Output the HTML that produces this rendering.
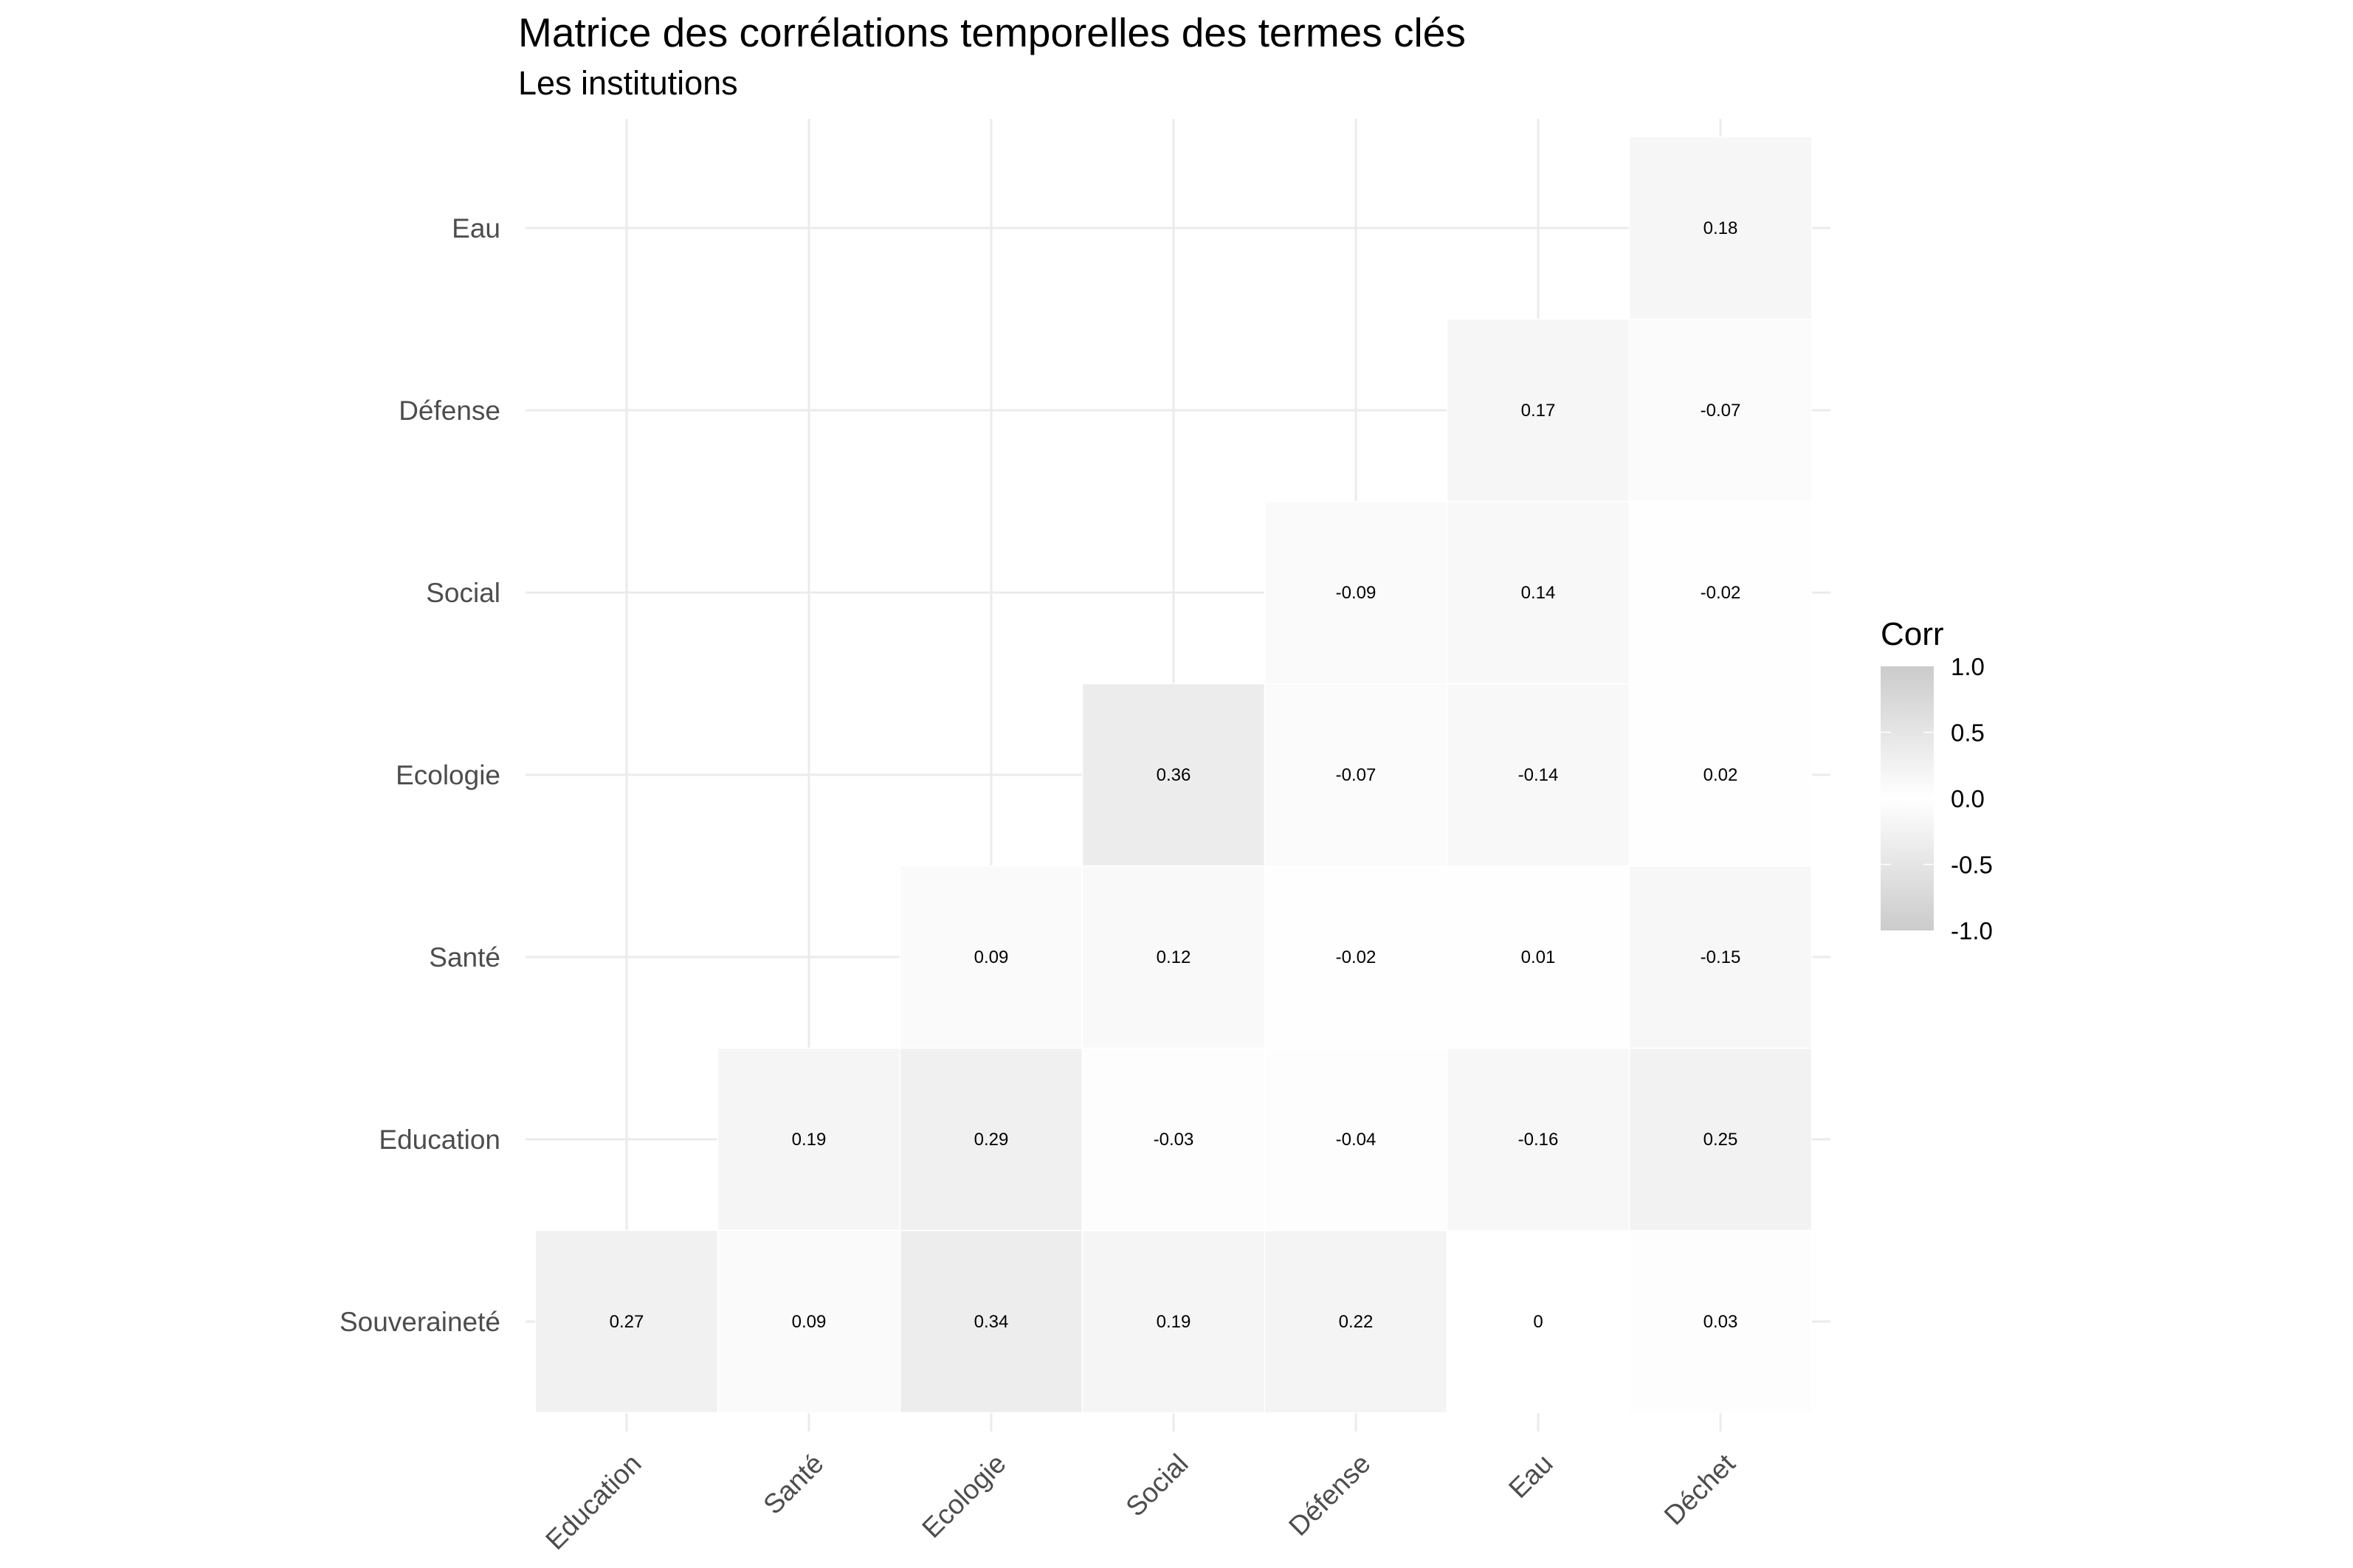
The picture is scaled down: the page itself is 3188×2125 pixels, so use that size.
<!DOCTYPE html>
<html><head><meta charset="utf-8"><style>
html,body{margin:0;padding:0;background:#fff;}
svg{display:block;font-family:"Liberation Sans",Arial,sans-serif;}
</style></head><body>
<svg id="chart" width="3188" height="2125" viewBox="0 0 3188 2125" xmlns="http://www.w3.org/2000/svg">
<rect width="3188" height="2125" fill="#fff"/>
<text x="702" y="63" font-size="55" fill="#000">Matrice des corrélations temporelles des termes clés</text>
<text x="702" y="128" font-size="45" fill="#000">Les institutions</text>
<g id="grid"></g>
<g id="tiles"></g>
<g id="xlabels"></g>
<g id="ylabels"></g>
<g id="legend">
<defs><linearGradient id="lg" x1="0" y1="0" x2="0" y2="1">
<stop offset="0" stop-color="#cbcbcb"/><stop offset="0.5" stop-color="#ffffff"/><stop offset="1" stop-color="#cbcbcb"/></linearGradient></defs>
<text x="2548" y="874" font-size="44" fill="#000">Corr</text>
<rect x="2548" y="903" width="72" height="358" fill="url(#lg)"/>
</g>
</svg>
<script>
const xCats = ["Education","Santé","Ecologie","Social","Défense","Eau","Déchet"];
const yCats = ["Souveraineté","Education","Santé","Ecologie","Social","Défense","Eau"];
const rowSouverainete = [0.27,0.09,0.34,0.19,0.22,0,0.03];
const rowEducation = [null,0.19,0.29,-0.03,-0.04,-0.16,0.25];
const rowSante = [null,null,0.09,0.12,-0.02,0.01,-0.15];
const rowEcologie = [null,null,null,0.36,-0.07,-0.14,0.02];
const rowSocial = [null,null,null,null,-0.09,0.14,-0.02];
const rowDefense = [null,null,null,null,null,0.17,-0.07];
const rowEau = [null,null,null,null,null,null,0.18];
const legendTicks = [1.0,0.5,0.0,-0.5,-1.0];
const legendTickLabels = ["1.0","0.5","0.0","-0.5","-1.0"];

const rows = [rowSouverainete,rowEducation,rowSante,rowEcologie,rowSocial,rowDefense,rowEau];
const NS = "http://www.w3.org/2000/svg";
const X0 = 849, STEP = 247, Y0 = 1791;
const xPos = i => X0 + i*STEP;
const yPos = j => Y0 - j*STEP;
const legY = v => 903 + (1 - v)/2 * 358;
function fillFor(v){ const g = Math.round(255 - 52*Math.abs(v)); return `rgb(${g},${g},${g})`; }
function mk(tag, attrs, parent){ const e=document.createElementNS(NS,tag); for(const k in attrs) e.setAttribute(k,attrs[k]); parent.appendChild(e); return e; }

const grid = document.getElementById('grid');
xCats.forEach((c,i)=>{
  const l = mk('line',{x1:xPos(i),x2:xPos(i),y1:161,y2:1940,stroke:'#ebebeb','stroke-width':3},grid);
  
  
});
yCats.forEach((c,j)=>{
  const l = mk('line',{x1:712,x2:2480,y1:yPos(j),y2:yPos(j),stroke:'#ebebeb','stroke-width':3},grid);
  
  
});

const tiles = document.getElementById('tiles');
rows.forEach((row,j)=>{
  row.forEach((v,i)=>{
    if(v===null) return;
    const r = mk('rect',{x:xPos(i)-123.5,y:yPos(j)-123.5,width:STEP,height:STEP,fill:fillFor(v),stroke:'#fff','stroke-width':1.5},tiles);
    
    
    const t = mk('text',{x:xPos(i),y:yPos(j)+8,'font-size':24,'text-anchor':'middle',fill:'#000'},tiles);
    t.textContent = String(v);
    
    
  });
});

const xl = document.getElementById('xlabels');
xCats.forEach((c,i)=>{
  const x = xPos(i)+22, y = 1986;
  const t = mk('text',{x:x,y:y,'font-size':37,fill:'#4d4d4d','text-anchor':'end',transform:`rotate(-45 ${x} ${y})`},xl);
  t.textContent = c;
  
  
});
const yl = document.getElementById('ylabels');
yCats.forEach((c,j)=>{
  const t = mk('text',{x:678,y:yPos(j)+13,'font-size':37,fill:'#4d4d4d','text-anchor':'end'},yl);
  t.textContent = c;
  
  
});

const leg = document.getElementById('legend');
legendTicks.forEach((v,k)=>{
  if(Math.abs(v)!==1 && v!==0){
    const a = mk('line',{x1:2548,x2:2562,y1:legY(v),y2:legY(v),stroke:'#fff','stroke-width':1.5},leg);
    
    
    const b = mk('line',{x1:2606,x2:2620,y1:legY(v),y2:legY(v),stroke:'#fff','stroke-width':1.5},leg);
    
    
  }
  const t = mk('text',{x:2643,y:legY(v)+12,'font-size':33,fill:'#000'},leg);
  t.textContent = legendTickLabels[k];
  
  
});
</script>
</body></html>
